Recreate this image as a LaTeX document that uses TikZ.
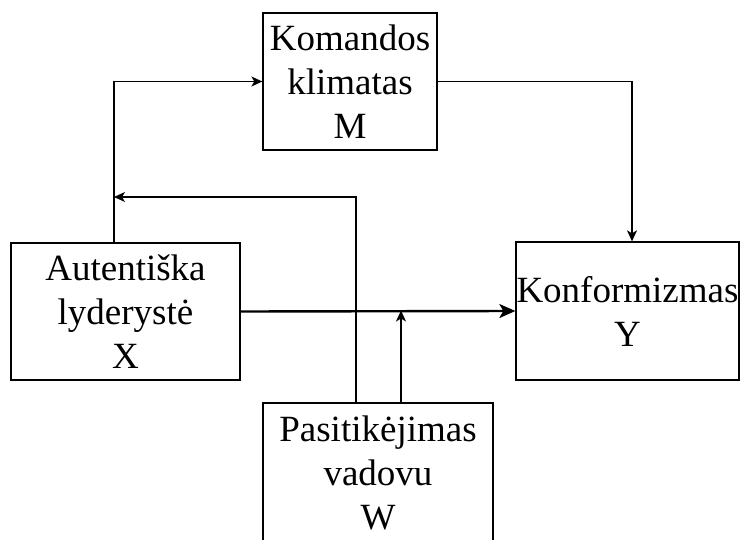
\documentclass[tikz,border=0pt]{standalone}
\usepackage{fontspec}
\setmainfont{Liberation Serif}
\usetikzlibrary{arrows.meta}
\begin{document}
\begin{tikzpicture}[x=1pt,y=1pt,
  box/.style={draw,line width=1.3pt,rectangle,align=center,inner sep=0pt,
    font=\fontsize{37}{44}\selectfont},
  conn/.style={line width=1.3pt},
  arr/.style={conn,-{Stealth[length=11pt,width=10pt,inset=3pt]}},
  thickarr/.style={line width=2.4pt,-{Stealth[length=16pt,width=14pt,inset=4pt]}}]
\useasboundingbox (0,0) rectangle (741,539);
\clip (0,0) rectangle (741,539);
\fill[white] (0,0) rectangle (741,539);
\node[box,minimum width=174pt,minimum height=137pt] (M) at (350,457.5) {Komandos\\klimatas\\M};
\node[box,minimum width=229pt,minimum height=137pt] (X) at (125.5,227.5) {Autentiška\\lyderystė\\X};
\node[box,minimum width=223pt,minimum height=138pt] (Y) at (627.5,228) {Konformizmas\\Y};
\node[box,minimum width=230pt,minimum height=140pt] (W) at (378,66) {Pasitikėjimas\\vadovu\\W};
\coordinate (c1) at (114,0);
\coordinate (c2) at (356,0);
\coordinate (c4) at (401,0);
\coordinate (c5) at (632,0);
\coordinate (j) at (114,342);
\draw[arr] (X.north -| c1) |- (M.west);
\draw[arr] (M.east) -| (c5 |- Y.north);
\draw[arr] (W.north -| c2) |- (j);
\draw[thickarr] (X.east) -- (Y.west);
\draw[arr] (W.north -| c4) -- ([yshift=1pt]c4 |- X.east);
\end{tikzpicture}
\end{document}
